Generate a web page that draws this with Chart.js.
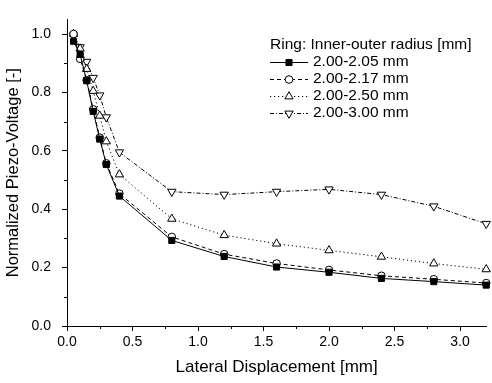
<!DOCTYPE html>
<html>
<head>
<meta charset="utf-8">
<title>Normalized Piezo-Voltage vs Lateral Displacement</title>
<script src="https://cdn.jsdelivr.net/npm/chart.js"></script>
<style>
  html, body { margin: 0; padding: 0; background: #fff; }
  #wrap { width: 492px; height: 383px; }
</style>
</head>
<body>
<div id="wrap"><canvas id="c" width="492" height="383"></canvas></div>
<script>
// Lateral displacement of the sensor [mm]
const displacement = [0.05, 0.1, 0.15, 0.2, 0.25, 0.3, 0.4, 0.8, 1.2, 1.6, 2.0, 2.4, 2.8, 3.2];

// Normalized piezo-voltage per ring geometry (inner-outer radius)
const ring205 = [0.975, 0.930, 0.840, 0.735, 0.640, 0.553, 0.445, 0.293, 0.238, 0.202, 0.184, 0.163, 0.152, 0.140];
const ring217 = [1.000, 0.915, 0.842, 0.742, 0.645, 0.557, 0.453, 0.305, 0.246, 0.214, 0.192, 0.172, 0.160, 0.147];
const ring250 = [1.000, 0.950, 0.880, 0.805, 0.720, 0.632, 0.519, 0.367, 0.311, 0.282, 0.259, 0.237, 0.214, 0.194];
const ring300 = [0.995, 0.955, 0.905, 0.850, 0.790, 0.715, 0.595, 0.460, 0.450, 0.460, 0.468, 0.450, 0.410, 0.350];

const seriesLabels = ['2.00-2.05 mm', '2.00-2.17 mm', '2.00-2.50 mm', '2.00-3.00 mm'];
const legendTitle = 'Ring: Inner-outer radius [mm]';

const xTitle = 'Lateral Displacement [mm]';
const yTitle = 'Normalized Piezo-Voltage [-]';

const FONT = "'Liberation Sans', Arial, sans-serif";

function toPoints(ys) {
  return displacement.map((x, i) => ({ x: x, y: ys[i] }));
}

const styles = [
  { dash: [],           point: 'rect',     radius: 4.3, fill: '#000', rot: 0 },
  { dash: [4, 3],       point: 'circle',   radius: 3.8, fill: '#fff', rot: 0 },
  { dash: [1.2, 2.8],   point: 'triangle', radius: 4.8, fill: '#fff', rot: 0 },
  { dash: [4, 2, 1, 2], point: 'triangle', radius: 4.8, fill: '#fff', rot: 180 }
];
const values = [ring205, ring217, ring250, ring300];

const datasets = values.map((ys, i) => ({
  label: seriesLabels[i],
  data: toPoints(ys),
  showLine: true,
  borderColor: '#000',
  borderWidth: 1,
  borderDash: styles[i].dash,
  pointStyle: styles[i].point,
  pointRotation: styles[i].rot,
  pointRadius: styles[i].radius,
  pointBorderWidth: 1,
  pointBorderColor: '#000',
  pointBackgroundColor: styles[i].fill,
  tension: 0,
  clip: false
}));

// Short minor ticks between the labelled major ticks
const minorTicks = {
  id: 'minorTicks',
  afterDraw(chart) {
    const { ctx, scales: { x, y } } = chart;
    ctx.save();
    ctx.strokeStyle = '#000';
    ctx.lineWidth = 1;
    ctx.beginPath();
    for (let v = 0.1; v < y.max; v += 0.2) {
      const py = Math.round(y.getPixelForValue(v)) + 0.5;
      ctx.moveTo(x.left - 3, py);
      ctx.lineTo(x.left, py);
    }
    for (let v = 0.25; v < x.max; v += 0.5) {
      const px = Math.round(x.getPixelForValue(v)) + 0.5;
      ctx.moveTo(px, y.bottom);
      ctx.lineTo(px, y.bottom + 3);
    }
    ctx.stroke();
    ctx.restore();
  }
};

// Legend block with its title, drawn inside the plot area
const ringLegend = {
  id: 'ringLegend',
  afterDraw(chart) {
    const ctx = chart.ctx;
    const x0 = 270, y0 = 45, rowH = 17;
    ctx.save();
    ctx.fillStyle = '#000';
    ctx.textBaseline = 'middle';
    ctx.textAlign = 'left';
    ctx.font = '15.5px ' + FONT;
    ctx.fillText(legendTitle, x0, y0);
    chart.data.datasets.forEach((ds, i) => {
      const yy = y0 + rowH * (i + 1);
      ctx.strokeStyle = '#000';
      ctx.lineWidth = 1;
      ctx.setLineDash(ds.borderDash);
      ctx.beginPath();
      ctx.moveTo(x0, yy + 0.5);
      ctx.lineTo(x0 + 38, yy + 0.5);
      ctx.stroke();
      ctx.setLineDash([]);
      ctx.fillStyle = ds.pointBackgroundColor;
      Chart.helpers.drawPoint(ctx, {
        pointStyle: ds.pointStyle,
        rotation: ds.pointRotation,
        radius: ds.pointRadius,
        borderWidth: 1
      }, x0 + 19, yy + 0.5);
      ctx.fillStyle = '#000';
      ctx.font = '15.5px ' + FONT;
      ctx.fillText(ds.label, x0 + 43, yy);
    });
    ctx.restore();
  }
};

new Chart(document.getElementById('c'), {
  type: 'scatter',
  data: { datasets },
  plugins: [minorTicks, ringLegend],
  options: {
    responsive: false,
    animation: false,
    devicePixelRatio: 1,
    layout: { padding: { top: 2, right: 0, bottom: 0, left: 0 } },
    plugins: {
      legend: { display: false },
      tooltip: { enabled: false }
    },
    scales: {
      x: {
        type: 'linear',
        min: 0,
        max: 3.2,
        border: { display: true, color: '#000', width: 1 },
        grid: { drawOnChartArea: false, drawTicks: true, tickLength: 5, color: '#000' },
        ticks: {
          stepSize: 0.5,
          includeBounds: false,
          autoSkip: false,
          maxRotation: 0,
          color: '#000',
          padding: 3,
          font: { family: FONT, size: 14 },
          callback: v => Number(v).toFixed(1)
        },
        title: {
          display: true,
          text: xTitle,
          color: '#000',
          font: { family: FONT, size: 17 },
          padding: { top: 0, bottom: 5 }
        },
        afterFit: s => { s.height = 57; }
      },
      y: {
        type: 'linear',
        min: 0,
        max: 1.05,
        border: { display: true, color: '#000', width: 1 },
        grid: { drawOnChartArea: false, drawTicks: true, tickLength: 5, color: '#000' },
        ticks: {
          stepSize: 0.2,
          includeBounds: false,
          color: '#000',
          padding: 11,
          font: { family: FONT, size: 14 },
          callback: v => Number(v).toFixed(1)
        },
        title: {
          display: true,
          text: yTitle,
          color: '#000',
          font: { family: FONT, size: 16.5 },
          padding: { top: 4, bottom: 0 }
        },
        afterFit: s => { s.width = 67; }
      }
    }
  }
});
</script>
</body>
</html>
